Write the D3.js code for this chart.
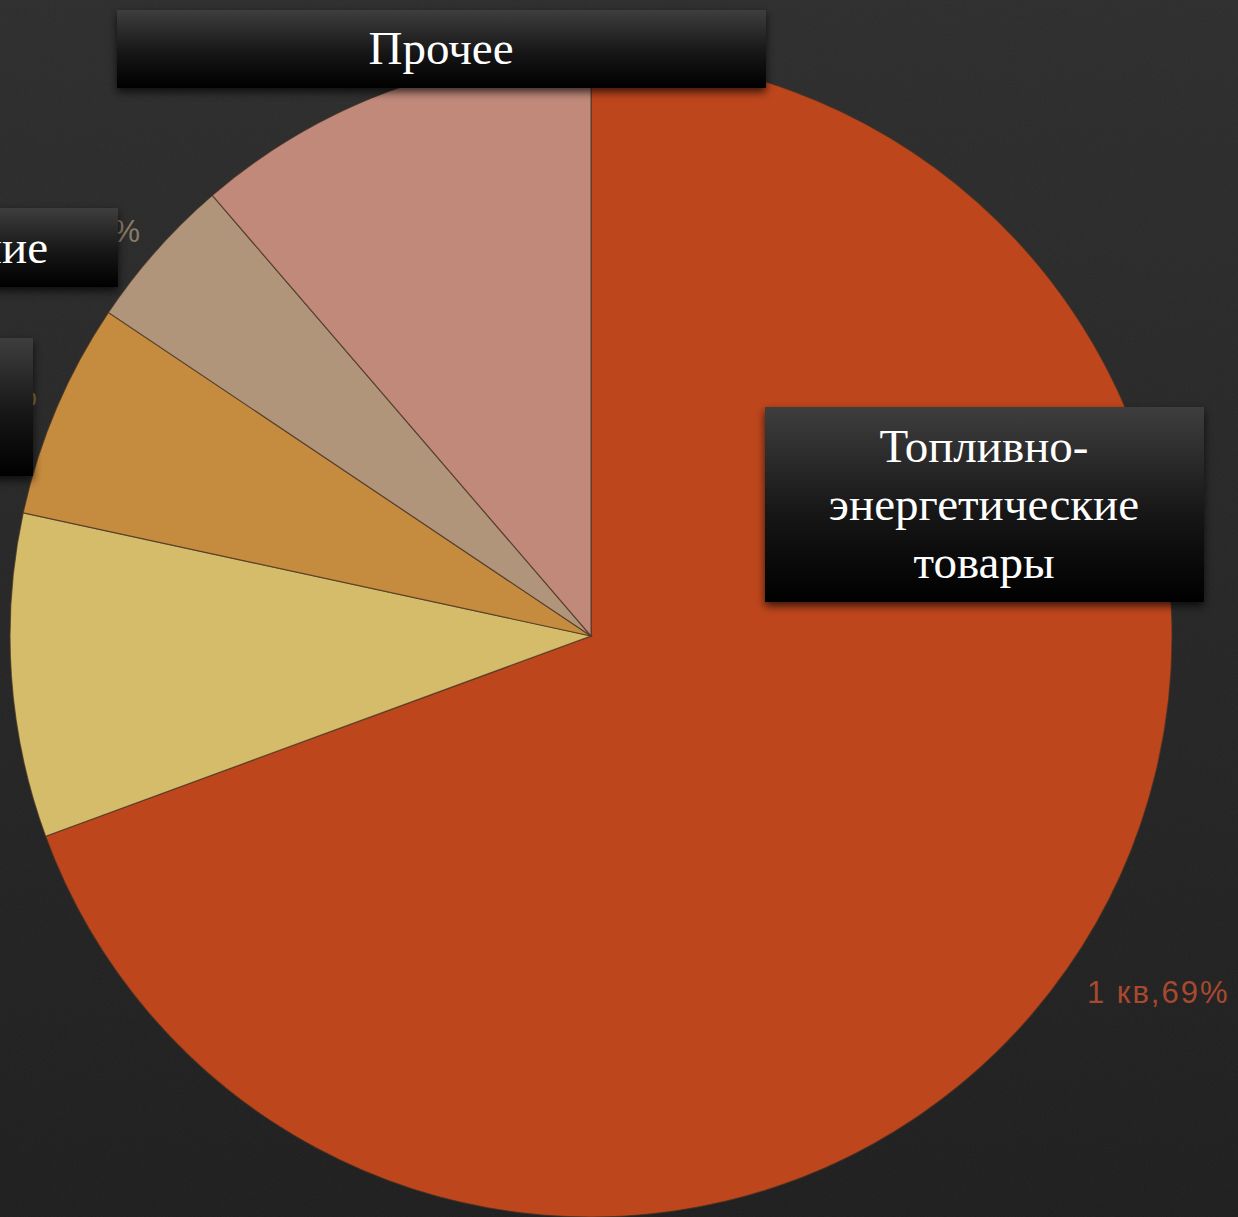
<!DOCTYPE html>
<html>
<head>
<meta charset="utf-8">
<script src="https://cdn.jsdelivr.net/npm/d3@7"></script>
<style>
  html, body { margin: 0; padding: 0; background: #242424; overflow: hidden; }
  svg { display: block; }
</style>
</head>
<body>
<div class="chart"></div>
<script>
// data (share of exports, 1st quarter)
var categories = ['Топливно-энергетические товары', 'Металлы и изделия из них',
    'Химическая продукция', 'Машины и оборудование', 'Прочее'];
var shares = [69.4, 9.0, 6.0, 4.3, 11.3];
var quarter = '1 кв';
var colors = ['#be461d', '#d5bc6a', '#c58b3e', '#b0957a', '#c0897a'];
var labelColors = ['#a8492f', '#9a8a55', '#8e6a3c', '#8a7a68', '#8d6a60'];

// callout boxes (lines of text as shown on the slide)
var calloutLines = [
    ['Топливно-', 'энергетические', 'товары'],
    ['Металлы и изделия из них'],
    ['Химическая', 'продукция'],
    ['Машины и оборудование'],
    ['Прочее']
];

var w = 1238, h = 1217;
var cx = 591, cy = 636, r = 581;

var svg = d3.select('.chart').append('svg')
    .attr('width', w)
    .attr('height', h);

var defs = svg.append('defs');

var bg = defs.append('linearGradient').attr('id', 'bg')
    .attr('x1', 0).attr('y1', 0).attr('x2', 0).attr('y2', 1);
bg.append('stop').attr('offset', '0%').attr('stop-color', '#2c2c2c');
bg.append('stop').attr('offset', '100%').attr('stop-color', '#1d1d1d');

var boxGrad = defs.append('linearGradient').attr('id', 'boxGrad')
    .attr('x1', 0).attr('y1', 0).attr('x2', 0).attr('y2', 1);
boxGrad.append('stop').attr('offset', '0%').attr('stop-color', '#3e3e3e');
boxGrad.append('stop').attr('offset', '55%').attr('stop-color', '#161616');
boxGrad.append('stop').attr('offset', '100%').attr('stop-color', '#000');

var blur = defs.append('filter').attr('id', 'blur')
    .attr('x', '-20%').attr('y', '-40%').attr('width', '140%').attr('height', '180%');
blur.append('feGaussianBlur').attr('stdDeviation', 4);

// a little grain like the slide background
var grain = defs.append('filter').attr('id', 'grain');
grain.append('feTurbulence').attr('type', 'fractalNoise')
    .attr('baseFrequency', 0.9).attr('numOctaves', 2).attr('result', 'n');
grain.append('feColorMatrix').attr('type', 'matrix')
    .attr('values', '0 0 0 0 0.5  0 0 0 0 0.5  0 0 0 0 0.5  0 0 0 0.06 0');

svg.append('rect').attr('width', w).attr('height', h).attr('fill', 'url(#bg)');
svg.append('rect').attr('width', w).attr('height', h).attr('filter', 'url(#grain)');

var pieData = d3.pie().sort(null).value(function (d) { return d; })(shares);

var arc = d3.arc().innerRadius(0).outerRadius(r);
var labelArc = d3.arc().innerRadius(600).outerRadius(600);

var g = svg.append('g').attr('transform', 'translate(' + cx + ',' + cy + ')');

g.selectAll('path.slice')
    .data(pieData)
    .enter()
    .append('path')
    .attr('class', 'slice')
    .attr('d', arc)
    .attr('fill', function (d, i) { return colors[i]; })
    .attr('stroke', 'rgba(70,50,35,0.7)')
    .attr('stroke-width', 1.2);

g.selectAll('text.pct')
    .data(pieData)
    .enter()
    .append('text')
    .attr('class', 'pct')
    .attr('x', function (d) {
        var c = labelArc.centroid(d);
        return c[0] > 0 ? c[0] + 4 : c[0];
    })
    .attr('y', function (d) {
        var c = labelArc.centroid(d);
        return c[1] > 0 ? c[1] + 13 : c[1] - 6;
    })
    .attr('text-anchor', function (d) {
        return labelArc.centroid(d)[0] > 0 ? 'start' : 'end';
    })
    .attr('dominant-baseline', 'central')
    .attr('font-family', '"Liberation Sans", Arial, sans-serif')
    .attr('font-size', 31)
    .attr('letter-spacing', 2)
    .attr('fill', function (d, i) { return labelColors[i]; })
    .text(function (d, i) { return quarter + ',' + Math.round(shares[i]) + '%'; });

// callout boxes: x, y, width, height, text x, anchor
var boxes = [
    {x: 765, y: 407, bw: 439, bh: 195, tx: 984, anchor: 'middle'},
    {x: -600, y: 520, bw: 560, bh: 138, tx: -320, anchor: 'middle'},
    {x: -500, y: 338, bw: 533, bh: 138, tx: -40, anchor: 'end'},
    {x: -600, y: 208, bw: 718, bh: 79, tx: 48, anchor: 'end'},
    {x: 117, y: 10, bw: 649, bh: 78, tx: 441, anchor: 'middle'}
];

var lineH = 58;

var callout = svg.selectAll('g.callout')
    .data(boxes)
    .enter()
    .append('g')
    .attr('class', 'callout');

callout.append('rect')
    .attr('x', function (d) { return d.x; })
    .attr('y', function (d) { return d.y + 4; })
    .attr('width', function (d) { return d.bw; })
    .attr('height', function (d) { return d.bh; })
    .attr('fill', '#000')
    .attr('opacity', 0.7)
    .attr('filter', 'url(#blur)');

callout.append('rect')
    .attr('x', function (d) { return d.x; })
    .attr('y', function (d) { return d.y; })
    .attr('width', function (d) { return d.bw; })
    .attr('height', function (d) { return d.bh; })
    .attr('fill', 'url(#boxGrad)');

callout.each(function (d, i) {
    var lines = calloutLines[i];
    var mid = d.y + d.bh / 2;
    var first = mid - (lines.length - 1) * lineH / 2 + 15;
    d3.select(this).selectAll('text')
        .data(lines)
        .enter()
        .append('text')
        .attr('x', d.tx)
        .attr('y', function (t, j) { return first + j * lineH; })
        .attr('text-anchor', d.anchor)
        .attr('font-family', '"Liberation Serif", "Times New Roman", serif')
        .attr('font-size', 47)
        .attr('fill', '#fff')
        .text(function (t) { return t; });
});
</script>
</body>
</html>
